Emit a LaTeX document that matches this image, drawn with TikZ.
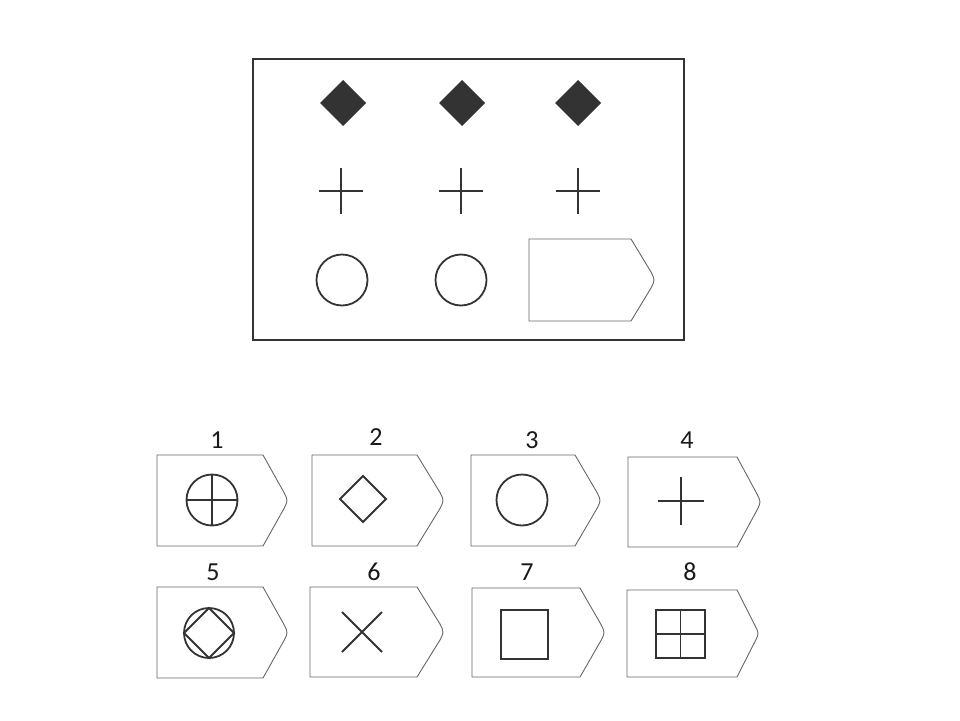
\documentclass[tikz,border=0pt]{standalone}
\usepackage{fontspec}
\setmainfont{Carlito}
% answer card: left, top, flat right end, tip, bottom
\newcommand{\card}[5]{%
  \draw[card] (#1,#2) -- (#3,#2) -- (#4-3,{(#2+#5)/2-8})
  .. controls (#4+1,{(#2+#5)/2}) .. (#4-3,{(#2+#5)/2+8}) -- (#3,#5) -- (#1,#5) -- cycle;}
\begin{document}
\begin{tikzpicture}[x=1pt,y=-1pt,
	card/.style={line width=0.9pt,black!60},
	glyph/.style={line width=1.8pt,black!80},
	num/.style={font=\fontsize{26}{30}\selectfont,text=black!90,inner sep=0pt}]
	\useasboundingbox (0,0) rectangle (960,720);
	% matrix
	\draw[line width=1.3pt,black!80] (253,59) rectangle (684,340);
	\foreach \x in {343,462,578}
	\fill[black!80] (\x,80) -- (\x+23,103) -- (\x,126) -- (\x-23,103) -- cycle;
	\foreach \x in {341,461,578}{
		\draw[glyph,line width=2pt] (\x-22,191) -- (\x+22,191);
		\draw[glyph,line width=2pt] (\x,168) -- (\x,214);
	}
	\foreach \x in {342,461}
	\draw[glyph] (\x,280) circle (25.5);
	\card{529}{239}{631}{654}{321}
	% answers
	\node[num] (n1) at (217,440) {1};
	\node[num] (n2) at (376,437) {2};
	\node[num] (n3) at (532,440) {3};
	\node[num] (n4) at (687,440) {4};
	\node[num] (n5) at (213,572) {5};
	\node[num] (n6) at (374,572) {6};
	\node[num] (n7) at (527,572) {7};
	\node[num] (n8) at (690,572) {8};
	\card{157}{455}{263}{287}{546}
	\card{312}{455}{417}{443}{546}
	\card{471}{455}{575}{600}{546}
	\card{628}{457}{737}{760}{547}
	\card{157}{587}{263}{287}{678}
	\card{310}{587}{417}{443}{677}
	\card{472}{588}{580}{604}{677}
	\card{627}{590}{737}{758}{677}
	% 1
	\draw[glyph] (212,500) circle (25.5);
	\draw[glyph] (186.5,500) -- (237.5,500) (212,474.5) -- (212,525.5);
	% 2
	\draw[glyph] (363,476) -- (386,499) -- (363,522) -- (340,499) -- cycle;
	% 3
	\draw[glyph] (522,500) circle (25.5);
	% 4
	\draw[glyph] (658,501) -- (704,501) (681,477) -- (681,525);
	% 5
	\draw[glyph] (209,633) circle (25);
	\draw[glyph] (209,608) -- (234,633) -- (209,658) -- (184,633) -- cycle;
	% 6
	\draw[glyph] (342,612) -- (382,652) (342,652) -- (382,612);
	% 7
	\draw[glyph,line width=2.2pt] (501,610) rectangle (548,659);
	% 8
	\draw[glyph,line width=2.2pt] (656,610) rectangle (705,658);
	\draw[glyph] (680.5,610) -- (680.5,658) (656,634) -- (705,634);
\end{tikzpicture}
\end{document}
